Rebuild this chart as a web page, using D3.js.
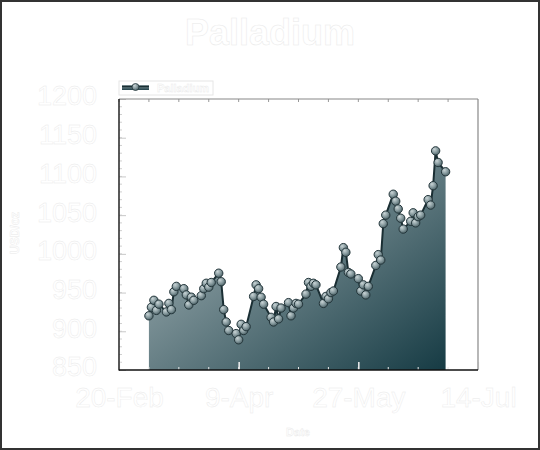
<!DOCTYPE html>
<html>
<head>
<meta charset="utf-8">
<script src="https://cdn.jsdelivr.net/npm/d3@7"></script>
<style>
  body { margin: 0; background: #fff; }
  svg text { font-family: "Liberation Sans", Arial, sans-serif; }
</style>
</head>
<body>
<svg id="chart"></svg>
<script>
// Palladium price, weekday closes (USD/oz)
var dates = [
  "2019-03-04", "2019-03-05", "2019-03-06", "2019-03-07", "2019-03-08",
  "2019-03-11", "2019-03-12", "2019-03-13", "2019-03-14", "2019-03-15",
  "2019-03-18", "2019-03-19", "2019-03-20", "2019-03-21", "2019-03-22",
  "2019-03-25", "2019-03-26", "2019-03-27", "2019-03-28", "2019-03-29",
  "2019-04-01", "2019-04-02", "2019-04-03", "2019-04-04", "2019-04-05",
  "2019-04-08", "2019-04-09", "2019-04-10", "2019-04-11", "2019-04-12",
  "2019-04-15", "2019-04-16", "2019-04-17", "2019-04-18", "2019-04-19",
  "2019-04-22", "2019-04-23", "2019-04-24", "2019-04-25", "2019-04-26",
  "2019-04-29", "2019-04-30", "2019-05-01", "2019-05-02", "2019-05-03",
  "2019-05-06", "2019-05-07", "2019-05-08", "2019-05-09", "2019-05-10",
  "2019-05-13", "2019-05-14", "2019-05-15", "2019-05-16", "2019-05-17",
  "2019-05-20", "2019-05-21", "2019-05-22", "2019-05-23", "2019-05-24",
  "2019-05-27", "2019-05-28", "2019-05-29", "2019-05-30", "2019-05-31",
  "2019-06-03", "2019-06-04", "2019-06-05", "2019-06-06", "2019-06-07",
  "2019-06-10", "2019-06-11", "2019-06-12", "2019-06-13", "2019-06-14",
  "2019-06-17", "2019-06-18", "2019-06-19", "2019-06-20", "2019-06-21",
  "2019-06-24", "2019-06-25", "2019-06-26", "2019-06-27", "2019-06-28",
  "2019-07-01"
];
var prices = [
  920, 931, 940, 927, 935,
  925, 936, 928, 951, 958,
  955, 947, 934, 944, 940,
  946, 955, 962, 957, 963,
  975, 964, 928, 912, 901,
  897, 889, 909, 901, 906,
  945, 960, 955, 944, 935,
  918, 912, 932, 916, 930,
  937, 920, 930, 936, 935,
  948, 963, 958, 962, 960,
  936, 945, 942, 950, 952,
  983, 1008, 1002, 976, 974,
  968, 952, 960, 947, 958,
  985, 999, 992, 1039, 1050,
  1077, 1068, 1058, 1046, 1032,
  1042, 1053, 1040, 1048, 1050,
  1070, 1063, 1088, 1133, 1118,
  1106
];
var xTickLabels = ["2019-02-20", "2019-04-09", "2019-05-27", "2019-07-14"];
var yTickLabels = [850, 900, 950, 1000, 1050, 1100, 1150, 1200];

var width = 540, height = 450;
var plotLeft = 119, plotRight = 478, plotTop = 99, plotBottom = 370;

var parse = d3.timeParse("%Y-%m-%d");
var data = dates.map(function(d, i) { return { date: parse(d), value: prices[i] }; });

var svg = d3.select("#chart")
    .attr("width", width)
    .attr("height", height);

var defs = svg.append("defs");

// diagonal fill for the area
var areaGrad = defs.append("linearGradient")
    .attr("id", "areaGrad")
    .attr("x1", 0).attr("y1", 0).attr("x2", 1).attr("y2", 1);
areaGrad.append("stop").attr("offset", "0%").attr("stop-color", "#b7c3c6");
areaGrad.append("stop").attr("offset", "100%").attr("stop-color", "#163b44");

// shiny ball markers
var ballGrad = defs.append("radialGradient")
    .attr("id", "ballGrad")
    .attr("cx", "40%").attr("cy", "35%").attr("r", "65%")
    .attr("fx", "35%").attr("fy", "30%");
ballGrad.append("stop").attr("offset", "0%").attr("stop-color", "#c9d4d6");
ballGrad.append("stop").attr("offset", "55%").attr("stop-color", "#8a9da1");
ballGrad.append("stop").attr("offset", "100%").attr("stop-color", "#4d6368");

var legendGrad = defs.append("linearGradient")
    .attr("id", "legendGrad")
    .attr("x1", 0).attr("y1", 0).attr("x2", 0).attr("y2", 1);
legendGrad.append("stop").attr("offset", "0%").attr("stop-color", "#9aabaf");
legendGrad.append("stop").attr("offset", "100%").attr("stop-color", "#1f3e46");

// outer frame of the picture
svg.append("rect")
    .attr("x", 1).attr("y", 1)
    .attr("width", width - 2).attr("height", height - 2)
    .style("fill", "#fff")
    .style("stroke", "#333")
    .style("stroke-width", 2);

var x = d3.scaleTime()
    .domain([parse(xTickLabels[0]), parse(xTickLabels[xTickLabels.length - 1])])
    .range([plotLeft, plotRight]);

var y = d3.scaleLinear()
    .domain([850, 1200])
    .range([plotBottom, plotTop]);

// outlined white text, like the original
function ghost(sel, strokeW) {
    sel.style("fill", "#fff")
       .style("stroke", "#e9e9e9")
       .style("stroke-width", strokeW);
}

// title
svg.append("text")
    .attr("x", 270)
    .attr("y", 45)
    .attr("text-anchor", "middle")
    .style("font-size", "36px")
    .style("font-weight", "bold")
    .text("Palladium")
    .call(ghost, 0.5);

// area + line + markers
var area = d3.area()
    .x(function(d) { return x(d.date); })
    .y0(y(850))
    .y1(function(d) { return y(d.value); });

var line = d3.line()
    .x(function(d) { return x(d.date); })
    .y(function(d) { return y(d.value); });

svg.append("path")
    .datum(data)
    .attr("d", area)
    .style("fill", "url(#areaGrad)");

// minor ticks (inside the plot)
var yMinor = d3.range(860, 1200, 10);
var minorDates = d3.timeDay.range(x.domain()[0], x.domain()[1], 12);

var gy = svg.append("g").attr("transform", "translate(" + plotLeft + ",0)");
gy.selectAll(".ytick-minor")
    .data(yMinor)
    .enter().append("line")
    .attr("x1", 0).attr("x2", 3)
    .attr("y1", function(d) { return y(d); })
    .attr("y2", function(d) { return y(d); })
    .style("stroke", "#d0d0d0");

var yAxis = d3.axisLeft(y)
    .tickValues(yTickLabels)
    .tickFormat(d3.format("d"))
    .tickSizeInner(-7)
    .tickSizeOuter(0)
    .tickPadding(22);
gy.call(yAxis);
gy.select(".domain").remove();
gy.selectAll(".tick line").style("stroke", "#c8c8c8");
gy.selectAll(".tick text")
    .attr("dy", "0.22em")
    .style("font-size", "27px")
    .style("font-family", "Liberation Sans, Arial, sans-serif")
    .call(ghost, 0.4);

var gxTop = svg.append("g");
gxTop.selectAll(".xtick-top")
    .data(minorDates)
    .enter().append("line")
    .attr("x1", function(d) { return x(d); })
    .attr("x2", function(d) { return x(d); })
    .attr("y1", plotTop).attr("y2", plotTop + 3)
    .style("stroke", "#999");

var gx = svg.append("g").attr("transform", "translate(0," + plotBottom + ")");
gx.selectAll(".xtick-minor")
    .data(minorDates)
    .enter().append("line")
    .attr("x1", function(d) { return x(d); })
    .attr("x2", function(d) { return x(d); })
    .attr("y1", 0).attr("y2", -3)
    .style("stroke", "#e8e8e8");

var xAxis = d3.axisBottom(x)
    .tickValues(xTickLabels.map(parse))
    .tickFormat(d3.timeFormat("%-d-%b"))
    .tickSizeInner(-8)
    .tickSizeOuter(0)
    .tickPadding(20);
gx.call(xAxis);
gx.select(".domain").remove();
gx.selectAll(".tick line").style("stroke", "#f2f2f2").style("stroke-width", 1.5);
gx.selectAll(".tick text")
    .attr("dy", "0.6em")
    .style("font-size", "28px")
    .style("font-family", "Liberation Sans, Arial, sans-serif")
    .call(ghost, 0.4);

svg.append("path")
    .datum(data)
    .attr("d", line)
    .style("fill", "none")
    .style("stroke", "#1a2e33")
    .style("stroke-width", 2);

svg.selectAll(".dot")
    .data(data)
    .enter().append("circle")
    .attr("class", "dot")
    .attr("cx", function(d) { return x(d.date); })
    .attr("cy", function(d) { return y(d.value); })
    .attr("r", 4.2)
    .style("fill", "url(#ballGrad)")
    .style("stroke", "#24363b")
    .style("stroke-width", 1);

// plot frame: dark left/bottom, grey top/right
svg.append("line").attr("x1", plotLeft).attr("y1", plotTop).attr("x2", plotRight).attr("y2", plotTop)
    .style("stroke", "#888").style("stroke-width", 1.2);
svg.append("line").attr("x1", plotRight).attr("y1", plotTop).attr("x2", plotRight).attr("y2", plotBottom)
    .style("stroke", "#888").style("stroke-width", 1.2);
svg.append("line").attr("x1", plotLeft).attr("y1", plotTop).attr("x2", plotLeft).attr("y2", plotBottom + 0.5)
    .style("stroke", "#222").style("stroke-width", 1.5);
svg.append("line").attr("x1", plotLeft).attr("y1", plotBottom).attr("x2", plotRight).attr("y2", plotBottom)
    .style("stroke", "#111").style("stroke-width", 1.5);

// axis titles
svg.append("text")
    .attr("x", 298)
    .attr("y", 436)
    .attr("text-anchor", "middle")
    .style("font-size", "11px")
    .style("font-weight", "bold")
    .text("Date")
    .call(ghost, 0.4);

svg.append("text")
    .attr("transform", "translate(19,233) rotate(-90)")
    .attr("text-anchor", "middle")
    .style("font-size", "12px")
    .style("font-weight", "bold")
    .text("USD/oz")
    .call(ghost, 0.4);

// legend
var legend = svg.append("g").attr("transform", "translate(119,81)");
legend.append("rect")
    .attr("width", 94).attr("height", 14)
    .style("fill", "#fff")
    .style("stroke", "#e6e6e6");
legend.append("rect")
    .attr("x", 3).attr("y", 4)
    .attr("width", 27).attr("height", 5)
    .style("fill", "url(#legendGrad)");
legend.append("line")
    .attr("x1", 3).attr("x2", 30).attr("y1", 5.5).attr("y2", 5.5)
    .style("stroke", "#1a2e33").style("stroke-width", 1.5);
legend.append("circle")
    .attr("cx", 16.5).attr("cy", 6)
    .attr("r", 3.5)
    .style("fill", "url(#ballGrad)")
    .style("stroke", "#27393e")
    .style("stroke-width", 0.8);
legend.append("text")
    .attr("x", 38).attr("y", 10.5)
    .style("font-size", "11px")
    .style("font-weight", "bold")
    .text("Palladium")
    .call(ghost, 0.4);
</script>
</body>
</html>
